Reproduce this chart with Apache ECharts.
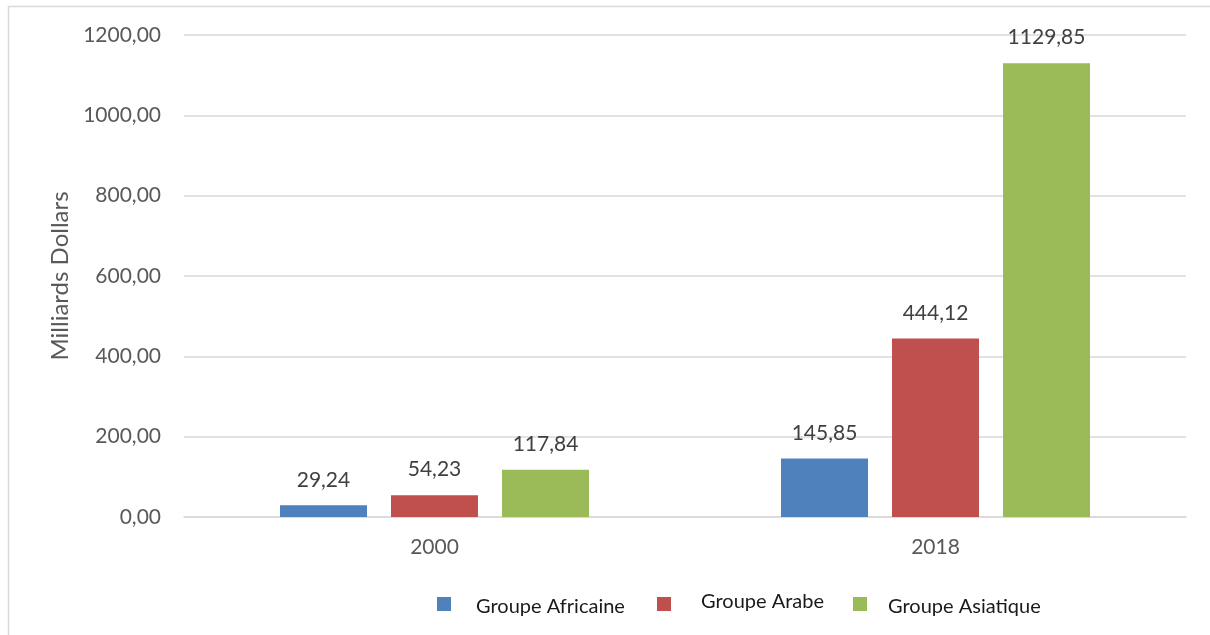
<!DOCTYPE html>
<html><head><meta charset="utf-8">
<script src="https://cdn.jsdelivr.net/npm/echarts@6/dist/echarts.min.js"></script>
<style>html,body{margin:0;padding:0;background:#fff}#c{width:1210px;height:635px}</style>
</head><body><div id="c"></div>
<script>
const categories = ['2000', '2018'];
const seriesNames = ['Groupe Africaine', 'Groupe Arabe', 'Groupe Asiatique'];
const africaine = [29.24, 145.85];
const arabe = [54.23, 444.12];
const asiatique = [117.84, 1129.85];
const colors = ['#4f81bd', '#c0504d', '#9bbb59'];
const yTicks = { min: 0, max: 1200, interval: 200 };

const fmt = v => v.toFixed(2).replace('.', ',');
const F = 'Lato, "Open Sans", sans-serif';
const values = [africaine, arabe, asiatique];
const legText = { fontFamily: F, fontSize: 20, color: '#1a1a1a' };
const iconLeft = [437, 657, 853];
const textLeft = [471, 696, 883];
const textTop = [597, 592, 597];
const legends = [];
seriesNames.forEach((n, i) => {
  legends.push({ data: [n], left: iconLeft[i], top: 597, padding: 0, itemWidth: 14, itemHeight: 14,
    icon: 'rect', formatter: () => '', textStyle: legText });
  legends.push({ data: [n], left: textLeft[i], top: textTop[i], padding: 0, itemWidth: 0, itemHeight: 0,
    icon: 'rect', textStyle: legText });
});
const chart = echarts.init(document.getElementById('c'));
chart.setOption({
  animation: false,
  graphic: [{ type: 'rect', shape: { x: 8.5, y: 6.5, width: 1300, height: 700 }, style: { fill: 'none', stroke: '#d9d9d9', lineWidth: 1.5 }, silent: true }],
  grid: { left: 184, right: 24, top: 35, bottom: 118 },
  legend: legends,
  xAxis: {
    type: 'category', data: categories,
    axisLine: { lineStyle: { color: '#d9d9d9', width: 1.5 } },
    axisTick: { show: false },
    axisLabel: { fontFamily: F, fontSize: 21, color: '#595959', margin: 20 }
  },
  yAxis: {
    type: 'value', min: yTicks.min, max: yTicks.max, interval: yTicks.interval,
    name: 'Milliards Dollars', nameLocation: 'middle', nameGap: 112, nameRotate: 90,
    nameTextStyle: { fontFamily: F, fontSize: 24, color: '#595959' },
    axisLine: { show: false }, axisTick: { show: false },
    axisLabel: { formatter: v => fmt(v), fontFamily: F, fontSize: 21, color: '#595959', margin: 23 },
    splitLine: { lineStyle: { color: '#d9d9d9', width: 1.5 } }
  },
  series: seriesNames.map((n, i) => ({
    name: n, type: 'bar', data: values[i], barWidth: 87, barGap: '27.6%',
    itemStyle: { color: colors[i] },
    label: { show: true, position: 'top', distance: 15, formatter: p => fmt(p.value),
      fontFamily: F, fontSize: 21, color: '#404040' }
  }))
});
</script></body></html>
